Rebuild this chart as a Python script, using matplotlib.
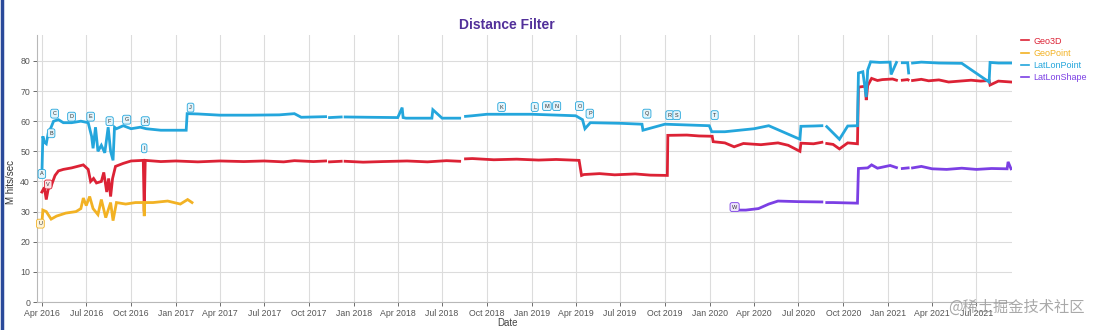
import numpy as np
import pandas as pd
import matplotlib
matplotlib.use("Agg")
import matplotlib.pyplot as plt
import matplotlib.dates as mdates
from matplotlib.lines import Line2D

nan = np.nan

# ---------------- data ----------------
geo3d_dates = ["2016-04-01", "2016-04-06", "2016-04-10", "2016-04-14", "2016-04-20", "2016-04-28",
               "2016-05-05", "2016-05-15", "2016-06-01", "2016-06-25", "2016-07-05", "2016-07-10",
               "2016-07-16", "2016-07-22", "2016-08-01", "2016-08-06", "2016-08-12", "2016-08-16",
               "2016-08-20", "2016-08-24", "2016-08-30", "2016-09-15", "2016-10-01", "2016-10-26",
               "2016-10-28", "2016-10-30", "2016-12-01", "2017-01-01", "2017-02-15", "2017-04-01",
               "2017-05-20", "2017-07-01", "2017-08-10", "2017-09-01", "2017-10-10",
               "2017-11-04", "2017-11-08", "2017-11-12", "2017-12-06", "2017-12-10", "2017-12-14",
               "2018-01-20", "2018-03-01", "2018-04-20", "2018-06-01", "2018-07-10",
               "2018-08-06", "2018-08-12", "2018-08-18", "2018-09-01", "2018-10-15", "2018-12-01",
               "2019-01-15", "2019-02-20", "2019-04-08", "2019-04-13", "2019-04-18", "2019-05-20",
               "2019-06-20", "2019-08-01", "2019-09-01",
               "2019-10-06", "2019-10-07", "2019-11-15", "2019-12-10", "2020-01-06", "2020-01-08",
               "2020-02-01", "2020-02-20", "2020-03-10", "2020-04-15", "2020-05-20", "2020-06-10",
               "2020-07-04", "2020-07-06", "2020-08-01", "2020-08-18", "2020-08-23", "2020-08-28",
               "2020-09-10", "2020-09-23", "2020-10-10", "2020-10-30", "2020-11-01", "2020-11-15",
               "2020-11-17", "2020-11-20", "2020-11-28", "2020-12-10", "2020-12-20", "2021-01-10",
               "2021-01-18", "2021-01-24", "2021-01-30", "2021-02-10", "2021-02-11", "2021-02-15",
               "2021-02-20", "2021-03-10", "2021-03-25", "2021-04-15", "2021-05-05", "2021-05-20",
               "2021-06-20", "2021-07-10", "2021-07-27", "2021-07-29", "2021-08-15", "2021-09-10"]
geo3d_vals = [36.5, 38.0, 34.0, 37.5, 38.5, 42.0,
              43.5, 44.0, 44.5, 45.5, 44.0, 40.0,
              41.0, 39.5, 40.0, 43.0, 36.5, 41.0,
              35.0, 41.0, 45.0, 46.0, 46.8, 47.0,
              30.0, 47.0, 46.6, 46.8, 46.5, 46.8,
              46.6, 46.8, 46.5, 46.9, 46.6,
              46.8, nan, 46.5, 46.7, nan, 46.7,
              46.4, 46.6, 46.8, 46.5, 46.9,
              46.7, nan, 47.5, 47.6, 47.2, 47.4,
              47.1, 47.3, 47.0, 42.0, 42.3, 42.6,
              42.2, 42.5, 42.1,
              42.0, 55.3, 55.4, 55.1, 55.0, 53.2,
              52.8, 51.5, 52.6, 52.2, 52.8, 52.0,
              50.0, 52.7, 52.5, 53.0, nan, 52.6,
              52.3, 50.8, 52.8, 52.5, 71.3, 71.6,
              67.0, 71.8, 74.2, 73.5, 73.8, 74.0,
              73.6, nan, 73.6, 73.8, 73.7, nan,
              73.5, 73.9, 73.4, 73.7, 73.0, 73.2,
              73.6, 73.3, 73.5, 72.0, 73.3, 73.0]

geopoint_dates = ["2016-04-01", "2016-04-03", "2016-04-10", "2016-04-20", "2016-05-01", "2016-05-20",
                  "2016-06-10", "2016-06-20", "2016-06-25", "2016-07-01", "2016-07-08", "2016-07-15",
                  "2016-07-25", "2016-08-01", "2016-08-10", "2016-08-20", "2016-08-25", "2016-09-01",
                  "2016-09-20", "2016-10-10", "2016-10-27", "2016-10-28", "2016-10-29", "2016-11-15",
                  "2016-12-15", "2017-01-10", "2017-01-25", "2017-02-03"]
geopoint_vals = [26.0, 30.5, 30.0, 27.5, 28.5, 29.5,
                 30.0, 31.0, 34.5, 32.0, 35.0, 31.0,
                 29.0, 34.0, 28.0, 33.0, 27.0, 33.0,
                 32.5, 33.0, 33.0, 28.5, 33.0, 33.0,
                 33.5, 32.5, 34.0, 33.0]

latlonpoint_dates = ["2016-04-01", "2016-04-03", "2016-04-06", "2016-04-10", "2016-04-14", "2016-04-20",
                     "2016-04-25", "2016-05-05", "2016-05-15", "2016-06-01", "2016-06-20", "2016-07-05",
                     "2016-07-12", "2016-07-15", "2016-07-20", "2016-07-25", "2016-08-01", "2016-08-08",
                     "2016-08-15", "2016-08-20", "2016-08-25", "2016-08-28", "2016-09-01", "2016-09-15",
                     "2016-10-01", "2016-10-20", "2016-11-01", "2016-12-01", "2017-01-01", "2017-01-22",
                     "2017-01-24", "2017-02-15", "2017-04-01", "2017-06-01", "2017-08-01", "2017-09-01",
                     "2017-09-15", "2017-11-04", "2017-11-08", "2017-11-12", "2017-12-06", "2017-12-10",
                     "2017-12-14", "2018-02-01", "2018-04-01", "2018-04-10", "2018-04-12", "2018-04-18",
                     "2018-06-10", "2018-06-12", "2018-07-01", "2018-08-06", "2018-08-12", "2018-08-18",
                     "2018-09-01", "2018-10-01", "2019-01-01", "2019-04-01", "2019-04-15", "2019-04-20",
                     "2019-05-01", "2019-07-01", "2019-08-15", "2019-08-17", "2019-10-01", "2019-12-31",
                     "2020-01-05", "2020-02-01", "2020-04-01", "2020-05-01", "2020-07-04", "2020-07-06",
                     "2020-08-01", "2020-08-18", "2020-08-23", "2020-08-28", "2020-09-23", "2020-10-10",
                     "2020-10-30", "2020-11-01", "2020-11-10", "2020-11-17", "2020-11-20", "2020-11-26",
                     "2020-12-15", "2021-01-05", "2021-01-07", "2021-01-18", "2021-01-24", "2021-01-30",
                     "2021-02-10", "2021-02-12", "2021-02-15", "2021-02-20", "2021-03-10", "2021-04-15",
                     "2021-06-01", "2021-07-27", "2021-07-29", "2021-08-15", "2021-09-10"]
latlonpoint_vals = [42.0, 55.0, 53.0, 52.5, 56.0, 58.0,
                    60.0, 60.5, 59.5, 59.5, 60.0, 59.5,
                    55.0, 51.0, 58.0, 50.0, 52.0, 49.5,
                    58.0, 50.0, 47.0, 58.0, 57.5, 58.5,
                    57.5, 58.0, 57.5, 57.0, 57.0, 57.0,
                    62.5, 62.4, 62.0, 62.0, 62.1, 62.5,
                    61.3, 61.5, nan, 61.2, 61.4, nan,
                    61.4, 61.3, 61.2, 64.5, 61.2, 61.0,
                    61.0, 63.8, 61.0, 61.0, nan, 61.6,
                    61.8, 62.3, 62.3, 61.8, 60.5, 57.5,
                    59.5, 59.3, 59.0, 57.0, 59.0, 58.5,
                    56.5, 56.5, 57.5, 58.5, 54.0, 58.3,
                    58.4, 58.5, nan, 58.2, 54.0, 58.4,
                    58.5, 76.0, 76.4, 68.0, 77.0, 79.7,
                    79.5, 79.6, 75.5, 79.5, nan, 79.4,
                    79.4, 76.0, nan, 79.3, 79.6, 79.3,
                    79.2, 73.0, 79.5, 79.3, 79.3]

latlonshape_dates = ["2020-02-21", "2020-03-01", "2020-03-15", "2020-04-10", "2020-05-01", "2020-05-20",
                     "2020-07-01", "2020-08-18", "2020-08-23", "2020-08-28", "2020-09-10", "2020-10-30",
                     "2020-11-01", "2020-11-20", "2020-11-28", "2020-12-10", "2021-01-05", "2021-01-18",
                     "2021-01-24", "2021-01-30", "2021-02-11", "2021-02-15", "2021-02-20", "2021-03-10",
                     "2021-04-01", "2021-05-01", "2021-06-01", "2021-07-01", "2021-08-01", "2021-09-02",
                     "2021-09-04", "2021-09-10"]
latlonshape_vals = [31.5, 30.5, 30.5, 31.0, 32.5, 33.5,
                    33.3, 33.2, nan, 33.0, 33.0, 32.8,
                    44.3, 44.5, 45.5, 44.4, 45.3, 44.6,
                    nan, 44.3, 44.5, nan, 44.5, 45.0,
                    44.2, 44.0, 44.4, 44.0, 44.3, 44.2,
                    46.5, 44.2]

# annotation markers on the series: (date, value, label)
annot_dates = ["2016-04-01", "2016-04-20", "2016-04-27", "2016-06-01", "2016-07-10", "2016-08-18",
               "2016-09-22", "2016-10-30", "2016-10-28", "2017-01-31", "2018-10-31", "2019-01-07",
               "2019-02-01", "2019-02-21", "2019-04-09", "2019-04-30", "2019-08-25", "2019-10-11",
               "2019-10-25", "2020-01-11"]
annot_vals = [42.5, 56.0, 62.5, 61.5, 61.5, 60.0,
              60.5, 60.0, 51.0, 64.5, 64.7, 64.7,
              65.0, 65.0, 65.0, 62.5, 62.5, 62.0,
              62.0, 62.0]
annot_labels = ["A", "B", "C", "D", "E", "F", "G", "H", "I", "J", "K", "L",
                "M", "N", "O", "P", "Q", "R", "S", "T"]

other_annot_dates = ["2016-03-29", "2016-04-14", "2020-02-21"]
other_annot_vals = [26.0, 39.0, 31.5]
other_annot_labels = ["U", "V", "W"]
other_annot_series = ["GeoPoint", "Geo3D", "LatLonShape"]

series_names = ["Geo3D", "GeoPoint", "LatLonPoint", "LatLonShape"]
colors = {"Geo3D": "#dc2235", "GeoPoint": "#f2b224",
          "LatLonPoint": "#24a6dc", "LatLonShape": "#7b3fe4"}
series_data = {
    "Geo3D": (geo3d_dates, geo3d_vals),
    "GeoPoint": (geopoint_dates, geopoint_vals),
    "LatLonPoint": (latlonpoint_dates, latlonpoint_vals),
    "LatLonShape": (latlonshape_dates, latlonshape_vals),
}

# ---------------- figure ----------------
plt.rcParams['font.family'] = ['Liberation Sans', 'DejaVu Sans']
fig = plt.figure(figsize=(11, 3.3), dpi=100)
ax = fig.add_axes([37 / 1100, 1 - 302 / 330, (1012 - 37) / 1100, (302 - 35) / 330])

for name in series_names:
    d, v = series_data[name]
    ax.plot(pd.to_datetime(d), v, color=colors[name], lw=2.0, label=name,
            solid_joinstyle='miter')

box_fc = {"Geo3D": "#fbe3e6", "GeoPoint": "#fdf3d8", "LatLonPoint": "#e3f4fb", "LatLonShape": "#ece3fb"}
for d, v, lab in zip(annot_dates, annot_vals, annot_labels):
    ax.text(pd.Timestamp(d), v, lab, fontsize=4, color="#333333", ha='center', va='center',
            bbox=dict(boxstyle='round,pad=0.35', fc=box_fc["LatLonPoint"], ec=colors["LatLonPoint"], lw=0.6),
            zorder=5)
for d, v, lab, s in zip(other_annot_dates, other_annot_vals, other_annot_labels, other_annot_series):
    ax.text(pd.Timestamp(d), v, lab, fontsize=4, color="#333333", ha='center', va='center',
            bbox=dict(boxstyle='round,pad=0.35', fc=box_fc[s], ec=colors[s], lw=0.6),
            zorder=5)

ax.set_xlim(pd.Timestamp("2016-03-22"), pd.Timestamp("2021-09-12"))
ax.set_ylim(0, 88.6)
ax.set_yticks(np.arange(0, 90, 10))
ax.xaxis.set_major_locator(mdates.MonthLocator(bymonth=[1, 4, 7, 10]))
ax.xaxis.set_major_formatter(mdates.DateFormatter("%b %Y"))
ax.grid(True, color="#dcdcdc", lw=0.8)
ax.set_axisbelow(True)
for s in ["top", "right"]:
    ax.spines[s].set_visible(False)
for s in ["left", "bottom"]:
    ax.spines[s].set_color("#b8b8b8")
    ax.spines[s].set_linewidth(0.8)
ax.tick_params(axis='both', labelsize=6.3, colors="#555555", length=3, width=0.6)
ax.tick_params(axis='x', pad=2)
ax.tick_params(axis='y', pad=2)

ax.set_xlabel("Date", fontsize=7, color="#444444", labelpad=1)
ax.xaxis.set_label_coords((508 - 37) / (1012 - 37), -0.06)
ax.set_ylabel("M hits/sec", fontsize=7, color="#333333")
ax.yaxis.set_label_coords(-0.022, 0.45)

fig.text(507 / 1100, 1 - 25 / 330, "Distance Filter", ha='center', va='center',
         fontsize=10, fontweight='bold', color="#52309a")

leg = fig.legend(loc='upper left', bbox_to_anchor=(1017 / 1100, 1 - 33 / 330), frameon=False,
                 fontsize=6.5, handlelength=0.9, handletextpad=0.5, labelspacing=0.35,
                 labelcolor='linecolor', borderaxespad=0)
for h in leg.legend_handles:
    h.set_linewidth(1.2)

# left screenshot border
fig.add_artist(Line2D([0.0015, 0.0015], [0, 1], color="#2a4a9a", lw=2.5, transform=fig.transFigure))

fig.text(1085 / 1100, 1 - 307 / 330, "@稀土掘金技术社区", ha='right', va='center', fontsize=11,
         color="#9a9a9a", alpha=0.85, family=['Noto Sans CJK SC', 'DejaVu Sans'])

fig.savefig("out.png", dpi=100)
